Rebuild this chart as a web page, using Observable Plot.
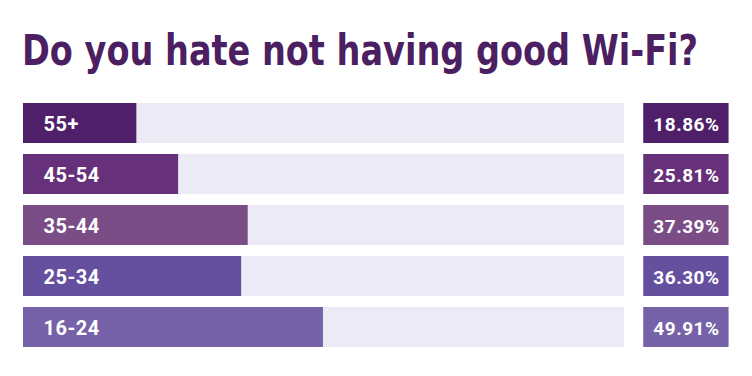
<!DOCTYPE html>
<html>
<head>
<meta charset="utf-8">
<script src="https://cdn.jsdelivr.net/npm/d3@7"></script>
<script src="https://cdn.jsdelivr.net/npm/@observablehq/plot@0.6"></script>
<style>
  html, body { margin: 0; padding: 0; background: #ffffff; }
  #wrap { width: 752px; height: 376px; position: relative; overflow: hidden; }
  #title {
    position: absolute; left: 22px; top: 25px; margin: 0;
    font-family: "DejaVu Sans Condensed", "DejaVu Sans", sans-serif;
    font-weight: 700; font-size: 42px; line-height: 52px; color: #4c1f63;
    white-space: nowrap; transform-origin: 0 0; display: inline-block;
  }
  #chart { position: absolute; left: 0; top: 90px; }
</style>
</head>
<body>
<div id="wrap">
  <div id="title">Do you hate not having good Wi-Fi?</div>
  <div id="chart"></div>
</div>
<script>
const categories = ["55+", "45-54", "35-44", "25-34", "16-24"];
const values = [18.86, 25.81, 37.39, 36.30, 49.91];
const valueLabels = ["18.86%", "25.81%", "37.39%", "36.30%", "49.91%"];
const colors = ["#4f1f69", "#66307b", "#7b4d87", "#6550a0", "#7562a9"];
const trackMax = 100;
const boxStart = 103.2, boxEnd = 117.4;

const data = categories.map((c, i) => ({cat: c, value: values[i], label: valueLabels[i], color: colors[i]}));

const title = document.getElementById("title");
const tw = title.getBoundingClientRect().width;
title.style.transform = `scaleX(${676 / tw})`;

const plot = Plot.plot({
  width: 752,
  height: 286,
  marginLeft: 23,
  marginRight: 128,
  marginTop: 1,
  marginBottom: 18,
  x: {domain: [0, trackMax], axis: null},
  y: {domain: categories, axis: null, padding: 0.22},
  style: {background: "transparent"},
  marks: [
    Plot.barX(data, {y: "cat", x1: 0, x2: () => trackMax, fill: "#ecebf5"}),
    Plot.barX(data, {y: "cat", x1: 0, x2: "value", fill: d => d.color}),
    Plot.barX(data, {y: "cat", x1: () => boxStart, x2: () => boxEnd, fill: d => d.color}),
    Plot.text(data, {y: "cat", x: 0, text: "cat", textAnchor: "start", dx: 20, dy: 1, fill: "white",
      fontSize: 20, fontWeight: 700, fontFamily: "Roboto, Inter, sans-serif"}),
    Plot.text(data, {y: "cat", x: () => (boxStart + boxEnd) / 2, text: "label", textAnchor: "middle", dy: 1, fill: "white",
      fontSize: 19, fontWeight: 700, fontFamily: "Roboto, Inter, sans-serif"})
  ]
});
plot.querySelectorAll("text").forEach(t => t.style.letterSpacing = "0.5px");
document.getElementById("chart").appendChild(plot);
</script>
</body>
</html>
